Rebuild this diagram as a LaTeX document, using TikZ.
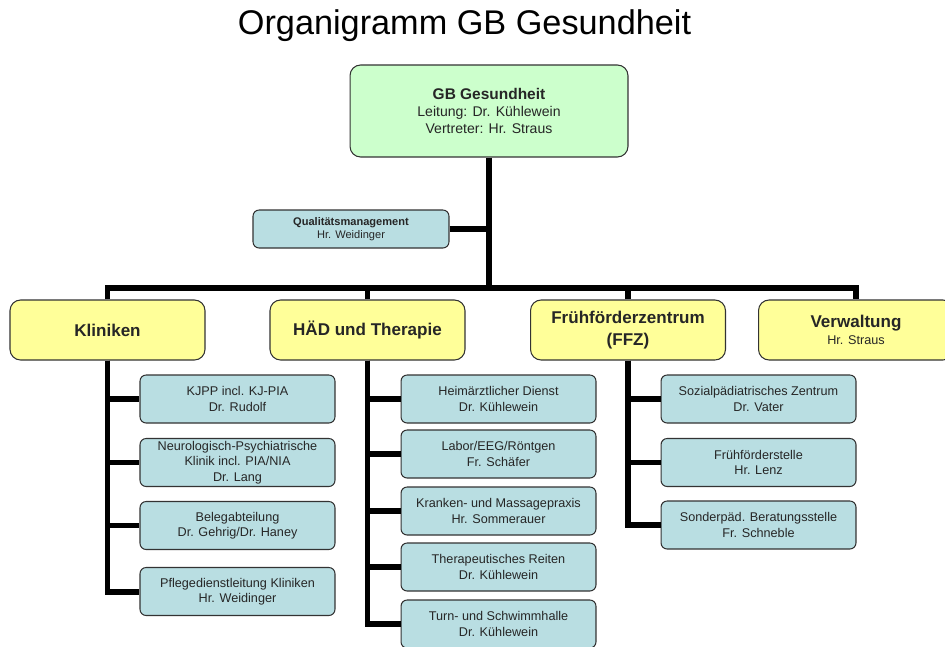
\documentclass[tikz,border=0pt]{standalone}
\usepackage{fontspec}
\setmainfont{Liberation Sans}
\definecolor{headgreen}{RGB}{204,255,204}
\definecolor{deptyellow}{RGB}{255,255,153}
\definecolor{unitblue}{RGB}{185,222,226}

\begin{document}
\begin{tikzpicture}[x=0.02cm, y=-0.02cm,
  box/.style={draw=black!80, line width=0.6pt, rounded corners=3.5pt, align=center, inner sep=0pt, text=black!85},
  head/.style={box, fill=headgreen, rounded corners=6pt, minimum width=5.56cm, minimum height=1.84cm, font=\fontsize{8}{9.8}\selectfont},
  dept/.style={box, fill=deptyellow, rounded corners=6pt, minimum width=3.9cm, minimum height=1.2cm, font=\fontsize{9.7}{12.5}\selectfont\bfseries},
  unit/.style={box, fill=unitblue, minimum width=3.9cm, minimum height=0.96cm, font=\fontsize{7.2}{8.8}\selectfont},
  link/.style={line width=3.4pt}]
\useasboundingbox (0,0) rectangle (945,646);

% title
\node[anchor=base, font=\fontsize{19.5}{22}\selectfont] (title) at (464.5,34) {Organigramm GB Gesundheit};

% head and staff
\node[head] (head) at (489,111) {\textbf{\fontsize{8.8}{9.8}\selectfont GB Gesundheit}\\Leitung: Dr. Kühlewein\\Vertreter: Hr. Straus};
\node[unit, minimum width=3.92cm, minimum height=0.76cm, font=\fontsize{6.3}{7}\selectfont] (quality) at (351,229) {\textbf{Qualitätsmanagement}\\Hr. Weidinger};

% departments
\node[dept] (kliniken) at (107.5,330) {Kliniken};
\node[dept] (haed) at (367.5,330) {HÄD und Therapie};
\node[dept] (ffz) at (628,330) {Frühförderzentrum\\(FFZ)};
\node[dept] (verwaltung) at (856,330) {Verwaltung\\[-2.5pt]\mdseries\fontsize{7.2}{8.8}\selectfont Hr. Straus};

% Kliniken units
\node[unit] (k1) at (237.5,399) {KJPP incl. KJ-PIA\\Dr. Rudolf};
\node[unit] (k2) at (237.5,462.5) {Neurologisch-Psychiatrische\\Klinik incl. PIA/NIA\\Dr. Lang};
\node[unit] (k3) at (237.5,525.5) {Belegabteilung\\Dr. Gehrig/Dr. Haney};
\node[unit] (k4) at (237.5,591.5) {Pflegedienstleitung Kliniken\\Hr. Weidinger};

% HAED units
\node[unit] (h1) at (498.5,399) {Heimärztlicher Dienst\\Dr. Kühlewein};
\node[unit] (h2) at (498.5,454) {Labor/EEG/Röntgen\\Fr. Schäfer};
\node[unit] (h3) at (498.5,511) {Kranken- und Massagepraxis\\Hr. Sommerauer};
\node[unit] (h4) at (498.5,567) {Therapeutisches Reiten\\Dr. Kühlewein};
\node[unit] (h5) at (498.5,624) {Turn- und Schwimmhalle\\Dr. Kühlewein};

% FFZ units
\node[unit] (f1) at (758.5,399) {Sozialpädiatrisches Zentrum\\Dr. Vater};
\node[unit] (f2) at (758.5,462.5) {Frühförderstelle\\Hr. Lenz};
\node[unit] (f3) at (758.5,525) {Sonderpäd. Beratungsstelle\\Fr. Schneble};

% lines
\coordinate (bus) at (489,288);
\draw[link] (head.south) -- (bus);
\draw[link] (quality.east) -- (quality.east -| head.south);
\draw[link] (kliniken.north) |- (bus) -| (verwaltung.north);
\draw[link] (haed.north) -- (haed.north |- bus);
\draw[link] (ffz.north) -- (ffz.north |- bus);
\foreach \u in {k1,k2,k3,k4} \draw[link] (kliniken.south) |- (\u.west);
\foreach \u in {h1,h2,h3,h4,h5} \draw[link] (haed.south) |- (\u.west);
\foreach \u in {f1,f2,f3} \draw[link] (ffz.south) |- (\u.west);
\end{tikzpicture}
\end{document}
